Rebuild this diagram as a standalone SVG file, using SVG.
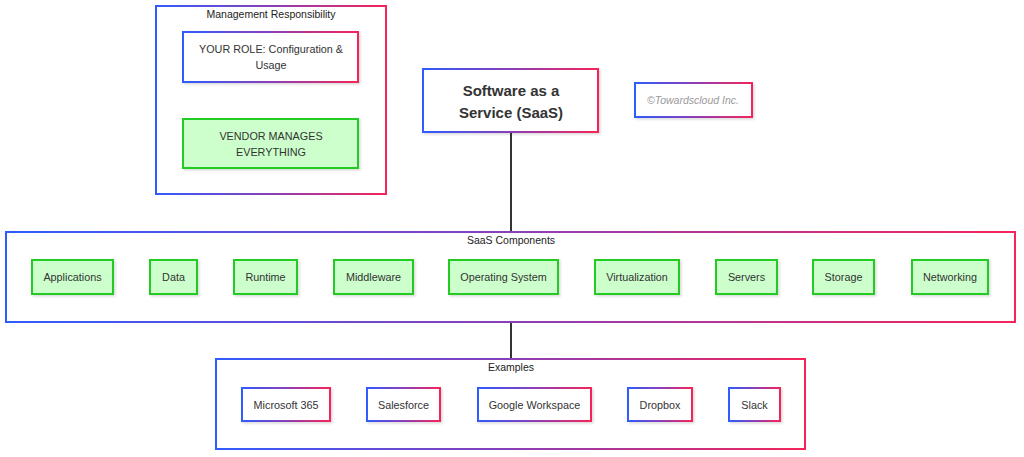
<svg xmlns="http://www.w3.org/2000/svg" width="1024" height="457" viewBox="0 0 1024 457">
<defs>
<linearGradient id="g" x1="0" y1="0" x2="1" y2="0">
<stop offset="0" stop-color="#2f5cff"/>
<stop offset="0.5" stop-color="#8a3fb8"/>
<stop offset="1" stop-color="#f5245a"/>
</linearGradient>
<filter id="sh" x="-10%" y="-20%" width="130%" height="150%">
<feDropShadow dx="1.5" dy="1.5" stdDeviation="1.2" flood-color="#000" flood-opacity="0.15"/>
</filter>
</defs>
<style>
text{font-family:"Liberation Sans",Arial,sans-serif;fill:#333;text-anchor:middle;dominant-baseline:central}
.cl{fill:#fff;stroke:url(#g);stroke-width:2}
.gb{fill:#ccffcc;stroke:#22cc22;stroke-width:2;filter:url(#sh)}
.wb{fill:#fff;stroke:url(#g);stroke-width:2;filter:url(#sh)}
.t{font-size:10.8px}
.ct{font-size:10.5px;fill:#222}
.big{font-size:15px;font-weight:bold}
.cp{font-size:10.5px;font-style:italic;fill:#999}
.ln{stroke:#333;stroke-width:2;fill:none}
</style>
<rect width="1024" height="457" fill="#fff"/>
<g id="connectors">
<line class="ln" x1="511" y1="132" x2="511" y2="232"/>
<line class="ln" x1="511" y1="322" x2="511" y2="359"/>
</g>
<g id="management">
<rect class="cl" x="156" y="6" width="230" height="188"/>
<text class="ct" x="271" y="14">Management Responsibility</text>
</g>
<g id="your-role">
<rect class="wb" x="183" y="32" width="175" height="50"/>
<text class="t" x="271" y="49">YOUR ROLE: Configuration &amp;</text>
<text class="t" x="271" y="65">Usage</text>
</g>
<g id="vendor">
<rect class="gb" x="183" y="119" width="175" height="49"/>
<text class="t" x="271" y="136">VENDOR MANAGES</text>
<text class="t" x="271" y="152">EVERYTHING</text>
</g>
<g id="saas">
<rect class="wb" x="423" y="69" width="175" height="63"/>
<text class="big" x="511" y="90">Software as a</text>
<text class="big" x="511" y="112">Service (SaaS)</text>
</g>
<g id="copyright">
<rect class="wb" x="635" y="83" width="117" height="34"/>
<text class="cp" x="693" y="100">©Towardscloud Inc.</text>
</g>
<g id="components">
<rect class="cl" x="6" y="232" width="1009" height="90"/>
<text class="ct" x="511" y="240">SaaS Components</text>
</g>
<g id="applications"><rect class="gb" x="32" y="260" width="81" height="34"/><text class="t" x="72.5" y="277">Applications</text></g>
<g id="data"><rect class="gb" x="150" y="260" width="47" height="34"/><text class="t" x="173.5" y="277">Data</text></g>
<g id="runtime"><rect class="gb" x="234" y="260" width="63" height="34"/><text class="t" x="265.5" y="277">Runtime</text></g>
<g id="middleware"><rect class="gb" x="334" y="260" width="79" height="34"/><text class="t" x="373.5" y="277">Middleware</text></g>
<g id="os"><rect class="gb" x="449" y="260" width="109" height="34"/><text class="t" x="503.5" y="277">Operating System</text></g>
<g id="virtualization"><rect class="gb" x="595" y="260" width="84" height="34"/><text class="t" x="637" y="277">Virtualization</text></g>
<g id="servers"><rect class="gb" x="716" y="260" width="61" height="34"/><text class="t" x="746.5" y="277">Servers</text></g>
<g id="storage"><rect class="gb" x="813" y="260" width="61" height="34"/><text class="t" x="843.5" y="277">Storage</text></g>
<g id="networking"><rect class="gb" x="912" y="260" width="76" height="34"/><text class="t" x="950" y="277">Networking</text></g>
<g id="examples">
<rect class="cl" x="216" y="359" width="589" height="90"/>
<text class="ct" x="511" y="367">Examples</text>
</g>
<g id="ms365"><rect class="wb" x="242" y="388" width="88" height="33"/><text class="t" x="286" y="404.5">Microsoft 365</text></g>
<g id="salesforce"><rect class="wb" x="367" y="388" width="73" height="33"/><text class="t" x="403.5" y="404.5">Salesforce</text></g>
<g id="google"><rect class="wb" x="478" y="388" width="113" height="33"/><text class="t" x="534.5" y="404.5">Google Workspace</text></g>
<g id="dropbox"><rect class="wb" x="628" y="388" width="64" height="33"/><text class="t" x="660" y="404.5">Dropbox</text></g>
<g id="slack"><rect class="wb" x="729" y="388" width="51" height="33"/><text class="t" x="754.5" y="404.5">Slack</text></g>
</svg>
